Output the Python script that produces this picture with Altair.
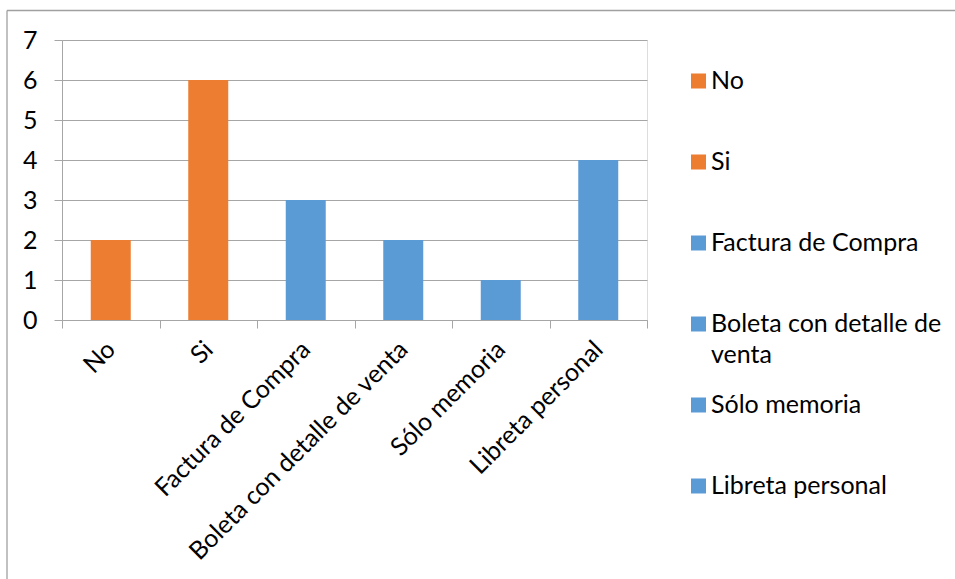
import altair as alt
import pandas as pd

# Survey answers and their counts
categories = ["No", "Si", "Factura de Compra", "Boleta con detalle de venta",
              "Sólo memoria", "Libreta personal"]
counts = [2, 6, 3, 2, 1, 4]
bar_colors = ["#ED7D31", "#ED7D31", "#5B9BD5", "#5B9BD5", "#5B9BD5", "#5B9BD5"]
y_ticks = [0, 1, 2, 3, 4, 5, 6, 7]

df = pd.DataFrame({"categoria": categories, "cantidad": counts})

FONT = "Lato"
FS = 25
GRID = "#A6A6A6"
FRAME = "#A0A0A0"

# Every legend label gets two lines so the rows stay evenly spaced;
# the long answer wraps onto its second line.
wrap_expr = ("datum.label == 'Boleta con detalle de venta' ? "
             "['Boleta con detalle de', 'venta'] : [datum.label, '']")

bars = alt.Chart(df).mark_bar(size=40).encode(
    x=alt.X(
        "categoria:N", sort=categories, title=None,
        scale=alt.Scale(paddingInner=0, paddingOuter=0),
        axis=alt.Axis(
            labelAngle=-45, labelAlign="right", labelBaseline="top",
            tickBand="extent", tickSize=8, tickColor=GRID, domainColor=GRID,
            labelPadding=17, labelFontSize=FS, labelFont=FONT, labelColor="black",
            labelLimit=400, grid=False,
        ),
    ),
    y=alt.Y(
        "cantidad:Q", title=None,
        scale=alt.Scale(domain=[0, 7], nice=False),
        axis=alt.Axis(
            values=y_ticks, format="d", tickSize=8, tickColor=GRID,
            domainColor=GRID, gridColor=GRID, grid=True, labelPadding=17,
            labelBaseline="top", labelFontSize=FS, labelFont=FONT,
            labelColor="black",
        ),
    ),
    color=alt.Color(
        "categoria:N", sort=categories,
        scale=alt.Scale(domain=categories, range=bar_colors),
        legend=alt.Legend(
            title=None, orient="none", legendX=624, legendY=28.5, padding=0,
            symbolType="square", symbolSize=225, symbolStrokeWidth=0,
            labelFontSize=FS, labelFont=FONT, labelColor="black",
            labelBaseline="top", labelOffset=0, rowPadding=24,
            labelLimit=400, labelExpr=wrap_expr,
        ),
    ),
)

# Thin outer frame (top and left edges of the chart box)
one = pd.DataFrame({"k": [0]})
frame_top = alt.Chart(one).mark_rule(color=FRAME, strokeWidth=1.3).encode(
    x=alt.value(-55), x2=alt.value(893), y=alt.value(-29.5)
)
frame_left = alt.Chart(one).mark_rule(color=FRAME, strokeWidth=1.3).encode(
    x=alt.value(-55), y=alt.value(-29.5), y2=alt.value(539)
)

chart = alt.layer(bars, frame_top, frame_left).properties(
    width=585, height=280,
    autosize=alt.AutoSizeParams(type="none"),
    padding={"left": 62, "top": 40, "right": 308, "bottom": 259},
).configure_view(
    stroke=None
).configure(
    background="white",
    # top-baseline labels nudged up so single lines sit centred on their anchor
    style={"guide-label": {"dy": -12, "lineHeight": 31}},
)

chart.save("out.html", embed_options={"renderer": "svg", "actions": False})
